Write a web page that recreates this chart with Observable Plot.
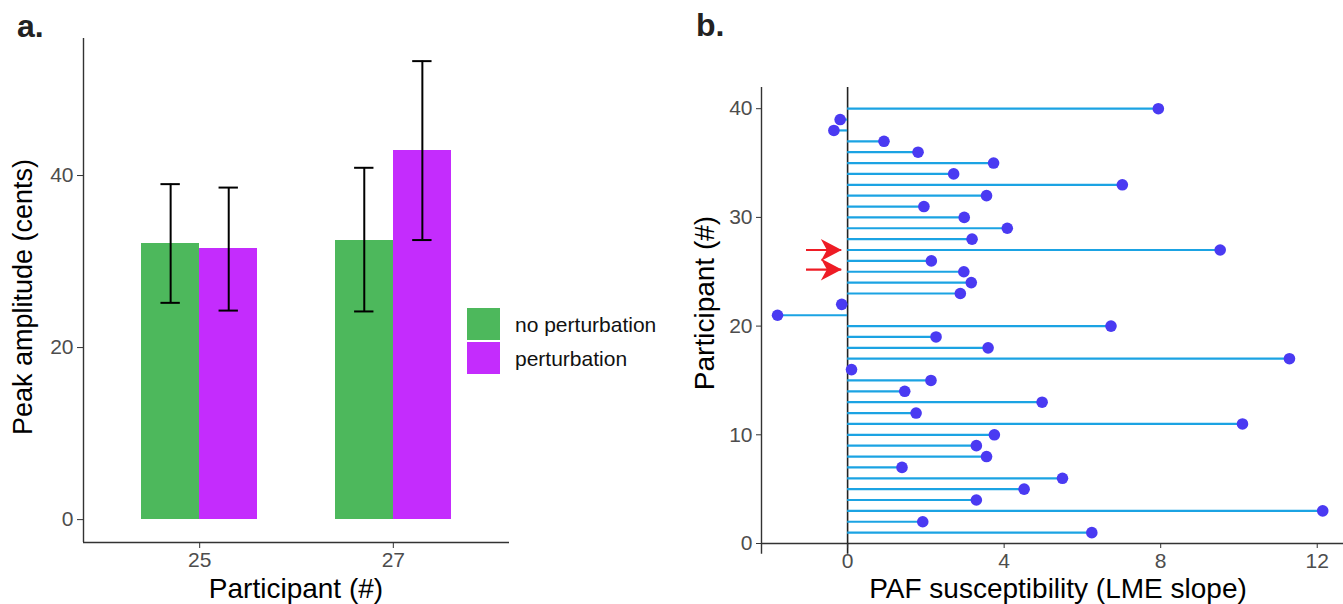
<!DOCTYPE html>
<html><head><meta charset="utf-8">
<script src="https://cdn.jsdelivr.net/npm/d3@7"></script>
<script src="https://cdn.jsdelivr.net/npm/@observablehq/plot@0.6"></script>
<style>
html,body{margin:0;padding:0;background:#fff;overflow:hidden}
#wrap{position:relative;width:1343px;height:604px;overflow:hidden;font-family:"Liberation Sans",Arial,sans-serif}
.panel{position:absolute;top:0;height:604px}
.panel svg{max-width:none !important;height:604px !important}
#overlay{position:absolute;left:0;top:0;pointer-events:none}
g[aria-label$="tick label"]{fill:#4d4d4d}
</style></head><body><div id="wrap"><div id="pa" class="panel" style="left:0;width:512px"></div><div id="pb" class="panel" style="left:672px;width:680px"></div></div>
<script>
// ---------- Panel a data ----------
const participantsA = ["25", "27"];
const conditions = ["no perturbation", "perturbation"];
const noPertMean = [32.1, 32.5];
const noPertLow  = [25.2, 24.2];
const noPertHigh = [39.0, 40.9];
const pertMean   = [31.5, 42.9];
const pertLow    = [24.3, 32.5];
const pertHigh   = [38.6, 53.3];
const condColors = ["#4db85c", "#c42cfd"];
const yTicksA = [0, 20, 40];

// ---------- Panel b data ----------
const participantsB = [1,2,3,4,5,6,7,8,9,10,11,12,13,14,15,16,17,18,19,20,21,22,23,24,25,26,27,28,29,30,31,32,33,34,35,36,37,38,39,40];
const slopes = [6.24, 1.92, 12.14, 3.29, 4.51, 5.49, 1.39, 3.55, 3.29, 3.75,
                10.09, 1.75, 4.97, 1.46, 2.13, 0.10, 11.29, 3.59, 2.26, 6.73,
                -1.79, -0.15, 2.88, 3.16, 2.97, 2.14, 9.52, 3.18, 4.08, 2.98,
                1.95, 3.55, 7.02, 2.71, 3.73, 1.80, 0.93, -0.35, -0.19, 7.94];
const yTicksB = [0, 10, 20, 30, 40];
const xTicksB = [0, 4, 8, 12];
// highlighted participants (red arrows)
const arrowY    = [27, 25.2];
const arrowFrom = [-1.05, -1.05];
const arrowTo   = [-0.15, -0.15];

// ---------- build tables ----------
const rowsA = [];
participantsA.forEach((p, i) => {
  rowsA.push({participant: p, condition: conditions[0], i, j: 0, mean: noPertMean[i], low: noPertLow[i], high: noPertHigh[i]});
  rowsA.push({participant: p, condition: conditions[1], i, j: 1, mean: pertMean[i], low: pertLow[i], high: pertHigh[i]});
});
const barW = 0.3, capHalf = 0.05;
const center = d => d.i + (d.j - 0.5) * barW;
const xDomA = [-0.6, 1.6], yDomA = [-2.66, 55.93];

const rowsB = participantsB.map((p, k) => ({participant: p, slope: slopes[k]}));
const arrows = arrowY.map((y, k) => ({y, from: arrowFrom[k], to: arrowTo[k]}));
const xDomB = [-2.2, 12.85], yDomB = [0, 41.95];

const baseStyle = {fontFamily: "Liberation Sans, Arial, sans-serif", fontSize: "21px", color: "#333", background: "transparent", overflow: "visible"};

const chartA = Plot.plot({
  width: 512, height: 604, marginLeft: 83, marginRight: 3, marginTop: 38, marginBottom: 62,
  style: baseStyle,
  x: {domain: xDomA},
  y: {domain: yDomA},
  color: {domain: conditions, range: condColors},
  marks: [
    Plot.rect(rowsA, {x1: d => center(d) - barW / 2, x2: d => center(d) + barW / 2, y1: 0, y2: "mean", fill: "condition", shapeRendering: "crispEdges"}),
    Plot.ruleX(rowsA, {x: center, y1: "low", y2: "high", stroke: "#000", strokeWidth: 2}),
    Plot.ruleY(rowsA, {y: "high", x1: d => center(d) - capHalf, x2: d => center(d) + capHalf, stroke: "#000", strokeWidth: 2}),
    Plot.ruleY(rowsA, {y: "low", x1: d => center(d) - capHalf, x2: d => center(d) + capHalf, stroke: "#000", strokeWidth: 2}),
    Plot.ruleX([xDomA[0]], {stroke: "#333", strokeWidth: 1.4}),
    Plot.ruleY([yDomA[0]], {stroke: "#333", strokeWidth: 1.4}),
    Plot.axisX({ticks: [0, 1], tickFormat: i => participantsA[i], tickSize: 6, tickPadding: 4, label: null}),
    Plot.axisY({ticks: yTicksA, tickSize: 6, tickPadding: 4, label: null})
  ]
});
document.getElementById("pa").appendChild(chartA);

// notched arrowhead symbol, tip at the point
const arrowHead = {
  draw(ctx, size) {
    const r = Math.sqrt(size / Math.PI);
    ctx.moveTo(0, 0);
    ctx.lineTo(-1.9 * r, -r);
    ctx.lineTo(-1.35 * r, 0);
    ctx.lineTo(-1.9 * r, r);
    ctx.closePath();
  }
};

const chartB = Plot.plot({
  width: 680, height: 604, marginLeft: 89, marginRight: 2, marginTop: 87, marginBottom: 61,
  style: baseStyle,
  x: {domain: xDomB},
  y: {domain: yDomB},
  marks: [
    Plot.ruleX([xDomB[0]], {y1: -1, y2: yDomB[1], stroke: "#333", strokeWidth: 1.4}),
    Plot.ruleY([0], {stroke: "#333", strokeWidth: 1.4}),
    Plot.ruleX([0], {y1: -1, y2: yDomB[1], stroke: "#222", strokeWidth: 1.6}),
    Plot.ruleY(rowsB, {y: "participant", x1: 0, x2: "slope", stroke: "#1ba3e3", strokeWidth: 2.2}),
    Plot.dot(rowsB, {x: "slope", y: "participant", r: 5.8, fill: "#4a3af2"}),
    Plot.ruleY(arrows, {y: "y", x1: "from", x2: "to", stroke: "#ee1c25", strokeWidth: 2.2}),
    Plot.dot(arrows, {x: "to", y: "y", r: 11, symbol: arrowHead, fill: "#ee1c25", stroke: "none"}),
    Plot.axisX({ticks: xTicksB, tickSize: 5, tickPadding: 5, label: null}),
    Plot.axisY({ticks: yTicksB, tickSize: 5, tickPadding: 4, label: null})
  ]
});
document.getElementById("pb").appendChild(chartB);

// ---------- titles, axis titles, legend ----------
const ov = d3.select("#wrap").append("svg").attr("id", "overlay")
  .attr("width", 1343).attr("height", 604)
  .style("font-family", "Liberation Sans, Arial, sans-serif");
ov.append("text").attr("x", 17).attr("y", 37).attr("font-size", 32).attr("font-weight", "bold").attr("fill", "#222").text("a.");
ov.append("text").attr("x", 696).attr("y", 36).attr("font-size", 32).attr("font-weight", "bold").attr("fill", "#222").text("b.");
ov.append("text").attr("transform", "translate(32,297) rotate(-90)").attr("text-anchor", "middle").attr("font-size", 27).attr("fill", "#000").text("Peak amplitude (cents)");
ov.append("text").attr("x", 296).attr("y", 598).attr("text-anchor", "middle").attr("font-size", 28).attr("fill", "#000").text("Participant (#)");
ov.append("text").attr("transform", "translate(714,303) rotate(-90)").attr("text-anchor", "middle").attr("font-size", 28).attr("fill", "#000").text("Participant (#)");
ov.append("text").attr("x", 1058).attr("y", 598).attr("text-anchor", "middle").attr("font-size", 28).attr("fill", "#000").text("PAF susceptibility (LME slope)");
const lg = ov.append("g");
conditions.forEach((c, k) => {
  lg.append("rect").attr("x", 467).attr("y", 308 + k * 34).attr("width", 33).attr("height", 32).attr("fill", condColors[k]);
  lg.append("text").attr("x", 515).attr("y", 332 + k * 34).attr("font-size", 21).attr("fill", "#111").text(c);
});
</script></body></html>
